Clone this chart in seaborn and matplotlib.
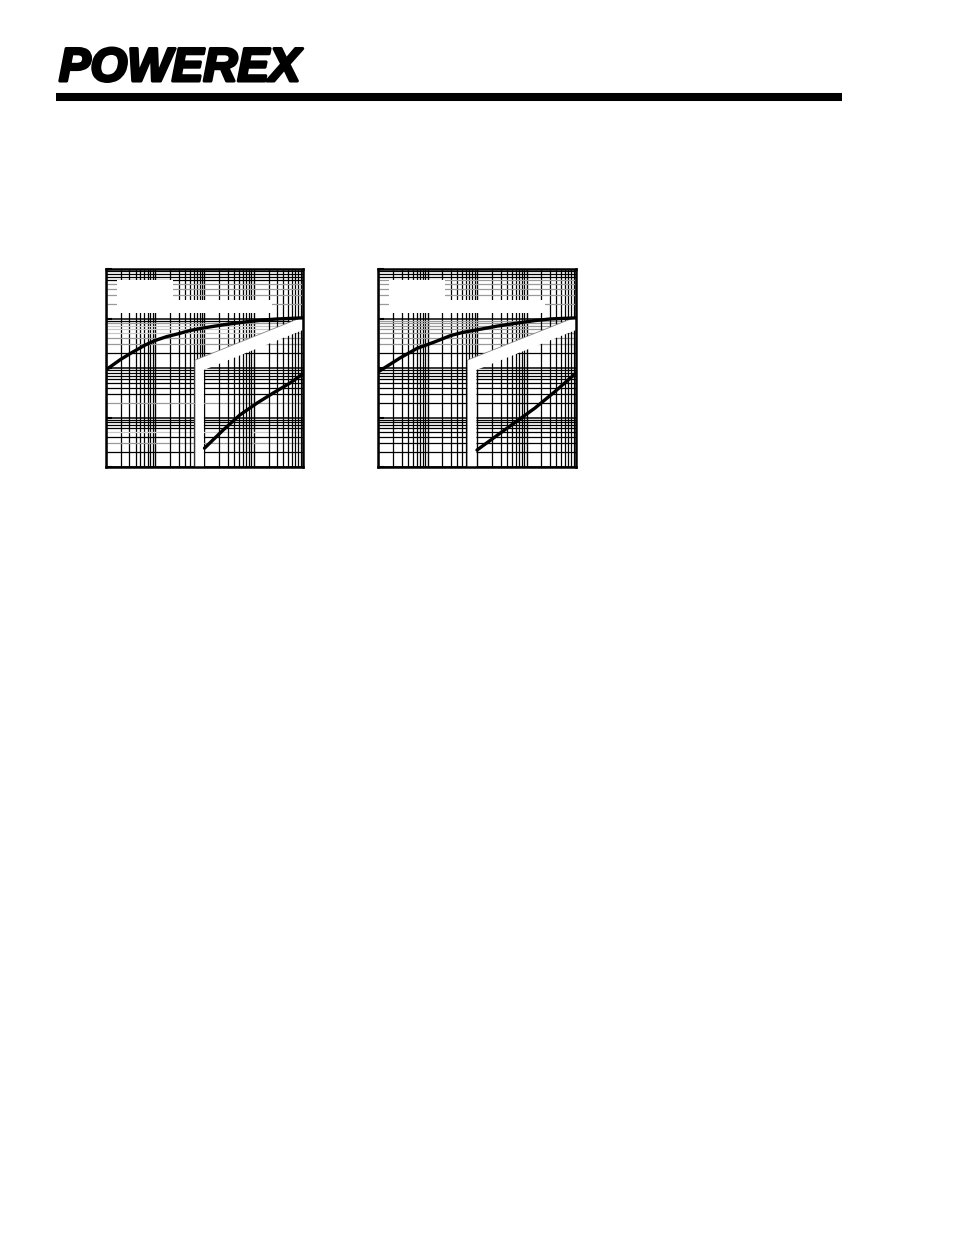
import matplotlib
matplotlib.use("Agg")
import matplotlib.pyplot as plt
import matplotlib.patheffects as pe
import pandas as pd
import seaborn as sns
from matplotlib.lines import Line2D

# Values (time in s, normalized transient thermal impedance)
left_upper_time = [1e-3, 2.0e-3, 3.5e-3, 6.2e-3, 1.0e-2, 1.7e-2, 2.9e-2, 5.0e-2, 1e-1, 2.5e-1, 6.6e-1, 1.5, 3.1, 10]
left_upper_zth = [0.092, 0.15, 0.21, 0.29, 0.36, 0.43, 0.49, 0.57, 0.65, 0.75, 0.85, 0.93, 0.98, 1.03]
left_lower_time = [0.1, 0.24, 0.52, 1.16, 2.45, 5.5, 10]
left_lower_zth = [0.0024, 0.0056, 0.0112, 0.0195, 0.031, 0.050, 0.076]

right_upper_time = [1e-3, 2.8e-3, 6.2e-3, 1.38e-2, 2.9e-2, 5.0e-2, 1e-1, 2.5e-1, 6.6e-1, 1.5, 3.1, 10]
right_upper_zth = [0.083, 0.16, 0.25, 0.335, 0.45, 0.52, 0.59, 0.70, 0.81, 0.91, 0.98, 1.03]
right_lower_time = [0.1, 0.30, 1.48, 3.7, 10]
right_lower_zth = [0.0022, 0.0049, 0.0155, 0.033, 0.079]

decades = [1e-3, 1e-2, 1e-1, 1e0, 1e1]
minor_steps = [2, 3, 4, 5, 6, 7, 8, 9]

# shade of each horizontal minor line (the scan renders some of them grey)
K, G, L = "black", "#9a9a9a", "#c8c8c8"
left_hgrid = {1e0: [G, G, G, G, K, K, K, K],
              1e-1: [K, G, G, L, L, L, G, K],
              1e-2: [G, K, K, K, K, K, K, K],
              1e-3: [K, G, K, L, K, K, K, K]}
right_hgrid = {1e0: [G, G, G, G, G, K, K, K],
               1e-1: [K, G, G, G, G, G, G, G],
               1e-2: [K, K, K, K, K, K, K, K],
               1e-3: [K, K, K, K, K, K, K, K]}

sns.set_style("white")
plt.rcParams["font.family"] = ["Liberation Sans", "DejaVu Sans"]

fig = plt.figure(figsize=(9.54, 12.35), dpi=100)
W, H = 954, 1235


def add_axes_px(left, top, width, height):
    return fig.add_axes([left / W, 1 - (top + height) / H, width / W, height / H])


def draw_chart(ax, hgrid, up_t, up_z, lo_t, lo_z):
    ax.set_xscale("log")
    ax.set_yscale("log")
    ax.set_xlim(1e-3, 1e1)
    ax.set_ylim(1e-3, 1e1)
    # grid
    for d in decades:
        ax.axvline(d, color="black", lw=1.0, zorder=1)
        ax.axhline(d, color="black", lw=1.1, zorder=1)
    for d in decades[:-1]:
        for s in minor_steps:
            ax.axvline(d * s, color="black", lw=0.9, zorder=1)
        for s, c in zip(minor_steps, hgrid[d]):
            ax.axhline(d * s, color=c, lw=0.9, zorder=1)
    # knocked-out label areas
    white = dict(color="white", transform=ax.transAxes, zorder=2, lw=0)
    ax.fill([0.056, 0.340, 0.340, 0.056], [0.944, 0.944, 0.778, 0.778], **white)
    ax.fill([0.340, 0.843, 0.843, 0.340], [0.845, 0.845, 0.778, 0.778], **white)
    ax.fill([0.452, 0.452, 1.0, 1.0, 0.497, 0.497],
            [0.0, 0.540, 0.758, 0.692, 0.490, 0.0], **white)
    ax.plot([0.452, 0.452, 1.0], [0.0, 0.540, 0.758], color="#888888", lw=0.6,
            transform=ax.transAxes, zorder=3)
    # curves
    upper = pd.DataFrame({"t": up_t, "z": up_z})
    lower = pd.DataFrame({"t": lo_t, "z": lo_z})
    sns.lineplot(data=upper, x="t", y="z", ax=ax, color="black", lw=2.4, zorder=4)
    sns.lineplot(data=lower, x="t", y="z", ax=ax, color="black", lw=2.4, zorder=4)
    ax.set_xlabel("")
    ax.set_ylabel("")
    ax.set_xticklabels([], minor=True)
    ax.set_yticklabels([], minor=True)
    ax.set_xticklabels([])
    ax.set_yticklabels([])
    ax.tick_params(axis="x", which="both", length=0)
    ax.tick_params(axis="y", which="minor", length=0)
    ax.tick_params(axis="y", which="major", direction="in", length=4, width=1.5,
                   left=True, color="black")
    for sp in ax.spines.values():
        sp.set_visible(True)
        sp.set_color("black")
        sp.set_linewidth(1.8)
        sp.set_zorder(5)


ax1 = add_axes_px(106, 269, 197, 198)
draw_chart(ax1, left_hgrid, left_upper_time, left_upper_zth, left_lower_time, left_lower_zth)
ax2 = add_axes_px(378, 269, 198, 198)
draw_chart(ax2, right_hgrid, right_upper_time, right_upper_zth, right_lower_time, right_lower_zth)

# header: logo and rule
fig.text(59 / W, 1 - 81 / H, "POWEREX", fontsize=34, fontweight="bold", style="italic",
         color="black", ha="left", va="baseline",
         path_effects=[pe.withStroke(linewidth=2.2, foreground="black")])
# hatch strokes across the P of the logo
for x0 in [57, 63, 69]:
    fig.add_artist(Line2D([x0 / W, (x0 + 14) / W], [1 - 80 / H, 1 - 50 / H],
                          color="white", lw=1.3))
fig.add_artist(Line2D([56 / W, 842 / W], [1 - 97 / H, 1 - 97 / H], color="black",
                      lw=5.8, solid_capstyle="butt"))

fig.savefig("out.png", dpi=100)
